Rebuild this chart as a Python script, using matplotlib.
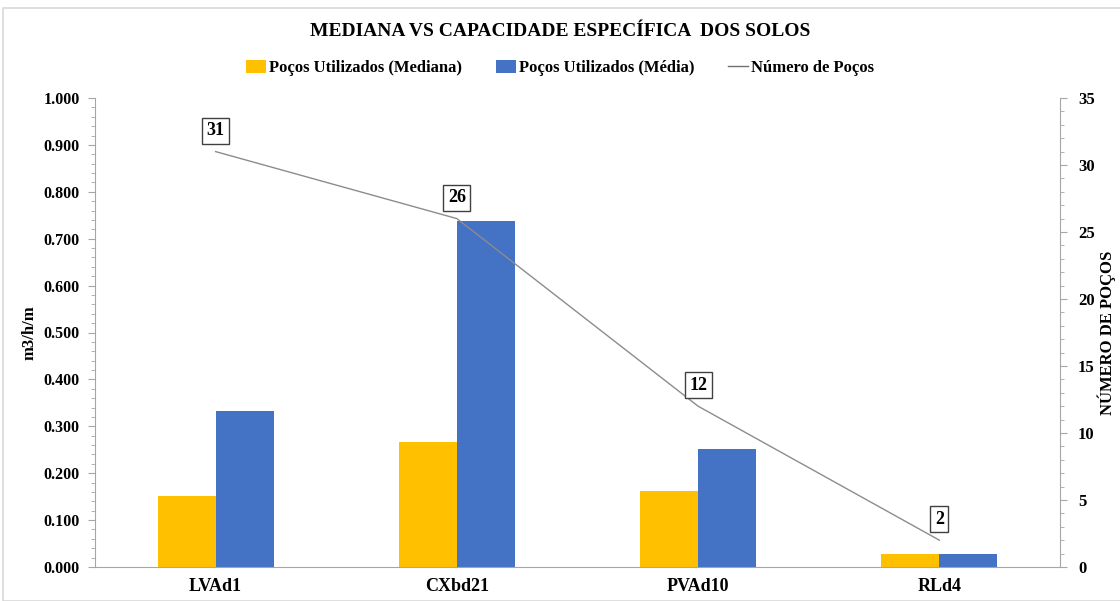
import matplotlib
matplotlib.use("Agg")
import matplotlib.pyplot as plt
import numpy as np
from matplotlib.ticker import MultipleLocator, FormatStrFormatter
from matplotlib.patches import Rectangle
from matplotlib.lines import Line2D

categories = ["LVAd1", "CXbd21", "PVAd10", "RLd4"]
mediana = [0.152, 0.267, 0.162, 0.028]
media = [0.333, 0.738, 0.252, 0.028]
num_pocos = [31, 26, 12, 2]

title = "MEDIANA VS CAPACIDADE ESPECÍFICA  DOS SOLOS"
ylabel_left = "m3/h/m"
ylabel_right = "NÚMERO DE POÇOS"
legend_labels = ["Poços Utilizados (Mediana)", "Poços Utilizados (Média)", "Número de Poços"]

YELLOW = "#FFC000"
BLUE = "#4472C4"
LINE_GRAY = "#8C8C8C"
AXIS_GRAY = "#A6A6A6"

plt.rcParams["font.family"] = ["Liberation Serif", "DejaVu Serif"]
plt.rcParams["font.weight"] = "bold"

fig = plt.figure(figsize=(11.2, 6.01), dpi=100)
fig.patch.set_facecolor("white")
# outer chart-area frame
fig.add_artist(Rectangle((3 / 1120, 0), 1.2, (601 - 8) / 601, transform=fig.transFigure,
                         fill=False, edgecolor="#D9D9D9", linewidth=1.2))

ax = fig.add_axes([95 / 1120, (601 - 567) / 601, (1060 - 95) / 1120, (567 - 98) / 601])
ax2 = ax.twinx()

x = np.arange(len(categories))
w = 0.24
ax.bar(x - w / 2, mediana, width=w, color=YELLOW, zorder=2)
ax.bar(x + w / 2, media, width=w, color=BLUE, zorder=2)

ax.set_xlim(-0.5, len(categories) - 0.5)
ax.set_ylim(0, 1.0)
ax.yaxis.set_major_locator(MultipleLocator(0.1))
ax.yaxis.set_minor_locator(MultipleLocator(0.02))
ax.yaxis.set_major_formatter(FormatStrFormatter("%.3f"))
ax.set_xticks(x)
ax.set_xticklabels(categories, fontsize=13, fontweight="bold")
ax.tick_params(axis="x", length=0, pad=8)
ax.tick_params(axis="y", which="major", length=5, color=AXIS_GRAY, labelsize=11.5, pad=6, direction="out")
ax.tick_params(axis="y", which="minor", length=3, color=AXIS_GRAY, direction="out")
for lbl in ax.get_yticklabels():
    lbl.set_fontweight("bold")

ax2.plot(x, num_pocos, color=LINE_GRAY, linewidth=1.0, zorder=3)
ax2.set_ylim(0, 35)
ax2.yaxis.set_major_locator(MultipleLocator(5))
ax2.yaxis.set_minor_locator(MultipleLocator(1))
ax2.tick_params(axis="y", which="major", length=5, color=AXIS_GRAY, labelsize=12, pad=8)
ax2.tick_params(axis="y", which="minor", length=3, color=AXIS_GRAY)
for lbl in ax2.get_yticklabels():
    lbl.set_fontweight("bold")

# boxed value labels above each point of the line
for xi, n in zip(x, num_pocos):
    ax2.annotate(str(n), (xi, n), xytext=(0, 21), textcoords="offset pixels",
                 ha="center", va="center", fontsize=13, fontweight="bold",
                 bbox=dict(boxstyle="square,pad=0.25", facecolor="white", edgecolor="#404040", linewidth=1.0),
                 zorder=5)

ax.spines["top"].set_visible(False)
ax2.spines["top"].set_visible(False)
ax.spines["right"].set_visible(False)
ax2.spines["left"].set_visible(False)
ax.spines["left"].set_color(AXIS_GRAY)
ax.spines["bottom"].set_color(AXIS_GRAY)
ax2.spines["right"].set_color(AXIS_GRAY)
ax2.spines["bottom"].set_visible(False)

ax.set_ylabel(ylabel_left, fontsize=12, fontweight="bold", labelpad=4)
ax2.set_ylabel(ylabel_right, fontsize=12, fontweight="bold", labelpad=2)

fig.text(0.5, 1 - 32 / 601, title, ha="center", va="center", fontsize=14, fontweight="bold")

handles = [
    Rectangle((0, 0), 1, 1, facecolor=YELLOW),
    Rectangle((0, 0), 1, 1, facecolor=BLUE),
    Line2D([0], [0], color="#707070", linewidth=1.0),
]
fig.legend(handles, legend_labels, loc="center", bbox_to_anchor=(0.5, 1 - 68 / 601), ncol=3,
           frameon=False, handlelength=1.2, handleheight=0.8, handletextpad=0.2,
           columnspacing=2.0, prop={"weight": "bold", "size": 12})

fig.savefig("out.png", dpi=100, facecolor="white")
